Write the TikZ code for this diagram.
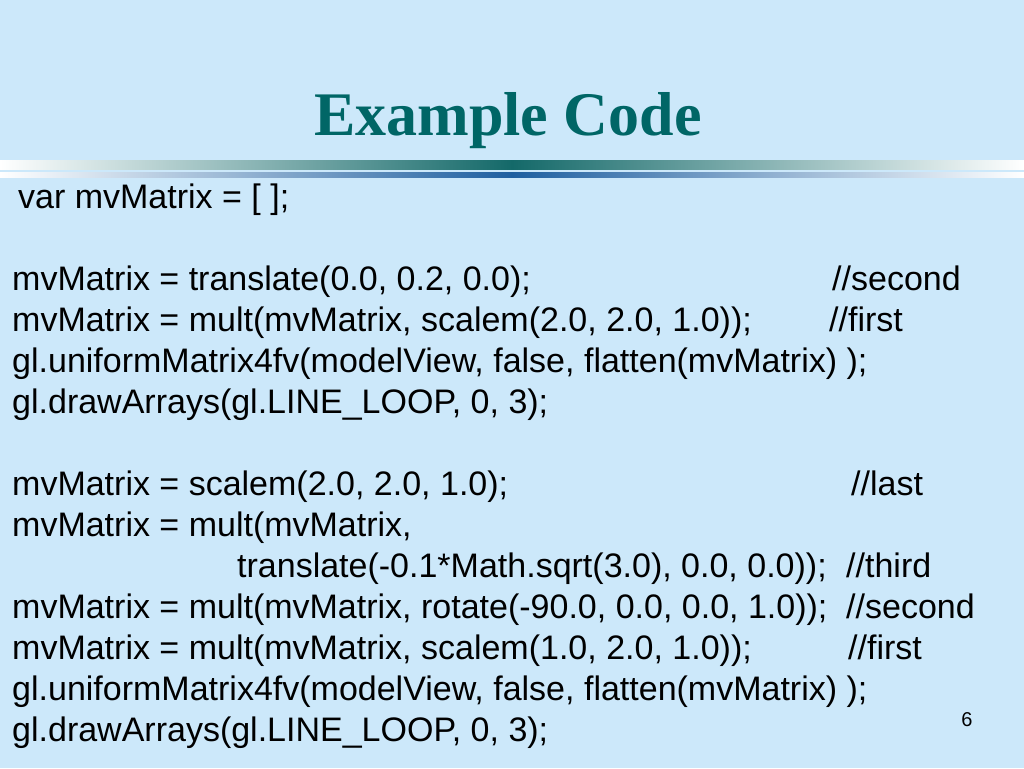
\documentclass[tikz,border=0pt]{standalone}
\usepackage{fontspec}
\setmainfont{Liberation Sans}
\newfontfamily\titlefont{Liberation Serif}
\definecolor{slidebg}{RGB}{204,232,250}
\definecolor{titleteal}{RGB}{0,102,102}
\definecolor{barteal}{RGB}{20,105,105}
\definecolor{barblue}{RGB}{30,95,160}
\begin{document}
\begin{tikzpicture}[x=1pt,y=-1pt,
    code/.style={anchor=base west,inner sep=0pt,font=\fontsize{34}{41}\selectfont},
    note/.style={code}]
        \fill[slidebg] (0,0) rectangle (1024,768);
        \useasboundingbox (0,0) rectangle (1024,768);
        \shade[left color=white,right color=white,middle color=barteal,shading angle=90] (0,160) rectangle (1024,169);
        \shade[left color=white,right color=white,middle color=barblue,shading angle=90] (0,172) rectangle (1024,177);
        \node[anchor=base,inner sep=0pt,text=titleteal,font=\titlefont\bfseries\fontsize{62}{70}\selectfont] (title) at (508,135) {Example Code};
        \node[code] (l0) at (18,208) {var mvMatrix = [ ];};
        \node[code] (l2) at (12,290) {mvMatrix = translate(0.0, 0.2, 0.0);};
        \node[code] (l3) at (12,331) {mvMatrix = mult(mvMatrix, scalem(2.0, 2.0, 1.0));};
        \node[code] (l4) at (12,372) {gl.uniformMatrix4fv(modelView, false, flatten(mvMatrix) );};
        \node[code] (l5) at (12,413) {gl.drawArrays(gl.LINE\_LOOP, 0, 3);};
        \node[code] (l7) at (12,495) {mvMatrix = scalem(2.0, 2.0, 1.0);};
        \node[code] (l8) at (12,536) {mvMatrix = mult(mvMatrix,};
        \node[code] (l9) at (237,577) {translate(-0.1*Math.sqrt(3.0), 0.0, 0.0));};
        \node[code] (l10) at (12,618) {mvMatrix = mult(mvMatrix, rotate(-90.0, 0.0, 0.0, 1.0));};
        \node[code] (l11) at (12,659) {mvMatrix = mult(mvMatrix, scalem(1.0, 2.0, 1.0));};
        \node[code] (l12) at (12,700) {gl.uniformMatrix4fv(modelView, false, flatten(mvMatrix) );};
        \node[code] (l13) at (12,741) {gl.drawArrays(gl.LINE\_LOOP, 0, 3);};
        % comments on the right
        \node[note] (c2) at (832,290) {//second};
        \node[note] (c3) at (829,331) {//first};
        \node[note] (c7) at (851,495) {//last};
        \node[note] (c9) at (846,577) {//third};
        \node[note] (c10) at (846,618) {//second};
        \node[note] (c11) at (848,659) {//first};
        \node[anchor=base,inner sep=0pt,font=\fontsize{20}{24}\selectfont] (page) at (967,726) {6};
    \end{tikzpicture}
\end{document}
